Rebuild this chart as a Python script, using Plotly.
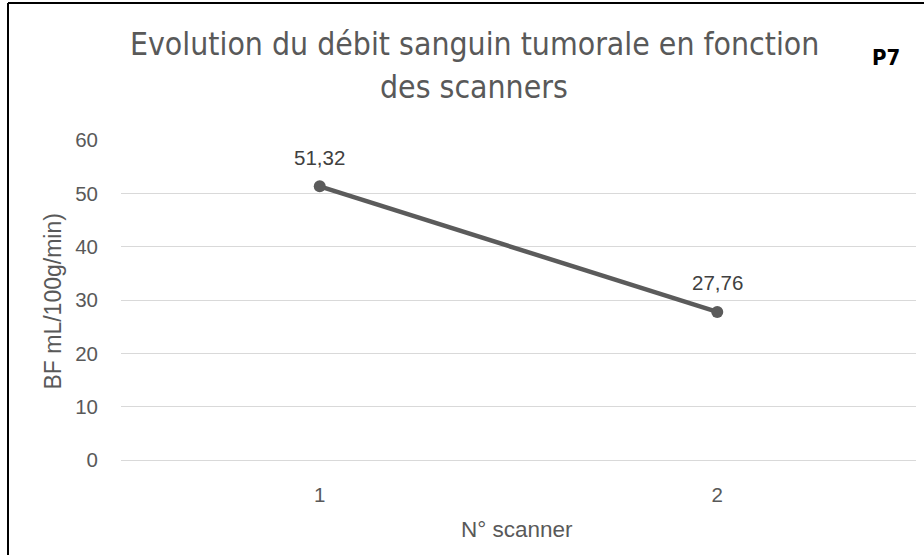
import plotly.graph_objects as go

# Chart data
scanners = ["1", "2"]
blood_flow = [51.32, 27.76]
y_ticks = [0, 10, 20, 30, 40, 50, 60]

W, H = 924, 555
L, R, T, B = 121, 8, 140, 95
PW, PH = W - L - R, H - T - B


def px(x):
    return (x - L) / PW


def py(y):
    return (H - B - y) / PH


GRAY = "#595959"
LINE = "#5b5b5b"
TITLE_FONT = "DejaVu Sans Condensed"
BODY_FONT = "Liberation Sans"

fig = go.Figure()
fig.add_trace(go.Scatter(
    x=scanners, y=blood_flow, mode="lines+markers",
    line=dict(color=LINE, width=4.5),
    marker=dict(color=LINE, size=12),
    hoverinfo="skip", showlegend=False,
))

annotations = []
for i, v in enumerate(blood_flow):
    annotations.append(dict(
        x=i, y=v, xref="x", yref="y", text=f"{v:.2f}".replace(".", ","),
        showarrow=False, yshift=29, font=dict(size=20.5, color="#404040",
                                              family=BODY_FONT),
    ))

annotations += [
    dict(x=px(474), y=py(44), xref="paper", yref="paper",
         text="Evolution du débit sanguin tumorale en fonction",
         showarrow=False, xanchor="center", yanchor="middle",
         font=dict(size=31.7, color=GRAY, family=TITLE_FONT)),
    dict(x=px(474), y=py(87), xref="paper", yref="paper",
         text="des scanners",
         showarrow=False, xanchor="center", yanchor="middle",
         font=dict(size=31.7, color=GRAY, family=TITLE_FONT)),
    dict(x=px(886), y=py(57), xref="paper", yref="paper", text="<b>P7</b>",
         showarrow=False, xanchor="center", yanchor="middle",
         font=dict(size=22, color="#000000", family=TITLE_FONT)),
    dict(x=px(517), y=py(529), xref="paper", yref="paper", text="N° scanner",
         showarrow=False, xanchor="center", yanchor="middle",
         font=dict(size=22.5, color=GRAY, family=BODY_FONT)),
    dict(x=px(52.5), y=py(302), xref="paper", yref="paper",
         text="BF mL/100g/min)", textangle=-90,
         showarrow=False, xanchor="center", yanchor="middle",
         font=dict(size=23, color=GRAY, family=BODY_FONT)),
]

shapes = [
    dict(type="line", xref="paper", yref="paper",
         x0=px(8), x1=px(8), y0=py(3), y1=py(H + 2),
         line=dict(color="#000000", width=2)),
    dict(type="line", xref="paper", yref="paper",
         x0=px(8), x1=px(W + 2), y0=py(3), y1=py(3),
         line=dict(color="#000000", width=2)),
]

fig.update_layout(
    width=W, height=H,
    margin=dict(l=L, r=R, t=T, b=B),
    paper_bgcolor="white", plot_bgcolor="white",
    font=dict(family=BODY_FONT, color=GRAY, size=20.5),
    annotations=annotations, shapes=shapes,
    xaxis=dict(type="category", range=[-0.5, 1.5], showgrid=False,
               showline=False, zeroline=False, ticks="",
               ticklabelstandoff=20, tickfont=dict(size=20.5, color=GRAY)),
    yaxis=dict(range=[0, 60], tickvals=y_ticks, showgrid=True,
               gridcolor="#d9d9d9", gridwidth=1.3, zeroline=True,
               zerolinecolor="#d9d9d9", zerolinewidth=1.3, showline=False,
               ticks="", ticklabelstandoff=22,
               tickfont=dict(size=20.5, color=GRAY)),
)

fig.write_html("out.html")
